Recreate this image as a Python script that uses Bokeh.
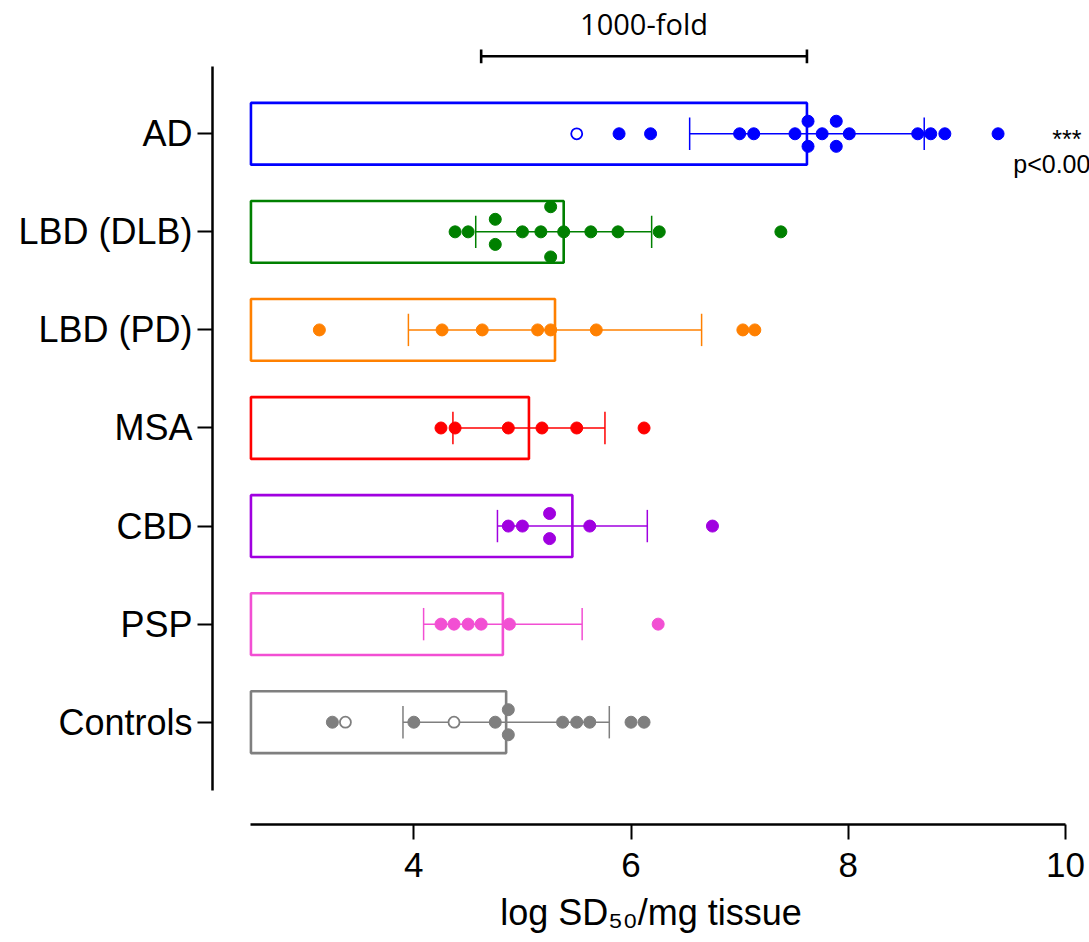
from collections import Counter

from bokeh.plotting import figure
from bokeh.models import Range1d, FixedTicker
from bokeh.embed import file_html
from bokeh.resources import INLINE
from bokeh.core.properties import value

# ---------------- data ----------------
groups = ["AD", "LBD (DLB)", "LBD (PD)", "MSA", "CBD", "PSP", "Controls"]
colors = ["#0000FF", "#008000", "#FF8000", "#FF0000", "#A000E0", "#F24FD3", "#7F7F7F"]
means = [7.62, 5.38, 5.30, 5.06, 5.46, 4.82, 4.85]
sds = [1.08, 0.81, 1.35, 0.70, 0.69, 0.73, 0.95]

ad_vals = [5.89, 6.18, 7.00, 7.13, 7.51, 7.63, 7.63, 7.76, 7.89, 7.89, 8.01, 8.64, 8.76, 8.89, 9.38]
ad_open = [5.50]
dlb_vals = [4.38, 4.50, 4.75, 4.75, 5.00, 5.17, 5.26, 5.26, 5.38, 5.63, 5.88, 6.26, 7.38]
dlb_open = []
pd_vals = [3.13, 4.26, 4.63, 5.14, 5.26, 5.68, 7.03, 7.14]
pd_open = []
msa_vals = [4.25, 4.38, 4.87, 5.18, 5.50, 6.12]
msa_open = []
cbd_vals = [4.87, 5.00, 5.25, 5.25, 5.62, 6.75]
cbd_open = []
psp_vals = [4.25, 4.37, 4.50, 4.62, 4.88, 6.25]
psp_open = []
ctrl_vals = [3.25, 4.00, 4.75, 4.87, 4.87, 5.37, 5.50, 5.62, 6.00, 6.12]
ctrl_open = [3.37, 4.37]

filled = [ad_vals, dlb_vals, pd_vals, msa_vals, cbd_vals, psp_vals, ctrl_vals]
hollow = [ad_open, dlb_open, pd_open, msa_open, cbd_open, psp_open, ctrl_open]

x_ticks = [4, 6, 8, 10]
x_title = "log SD\u2085\u2080/mg tissue"
fold_text = "1000-fold"
sig_stars = "***"
sig_text = "p<0.001"

# ---------------- layout helpers ----------------
n = len(groups)
rows = [n - 1 - i for i in range(n)]          # AD on top
BAR_H = 0.63
CAP = 0.165
LANE = 0.128
DOT_W = 0.11                                   # dot diameter in x units
X_BOUNDS = (2.5, 10)


def spread(vals):
    """Symmetric vertical stacking of identical values (dot-plot style)."""
    c = Counter(vals)
    singles = [v for v in vals if c[v] == 1]
    xs, offs = [], []
    for v in sorted(c):
        k = c[v]
        if k == 1:
            xs.append(v)
            offs.append(0.0)
            continue
        crowded = any(abs(s - v) < DOT_W for s in singles)
        step = (2 if crowded else 1) * LANE
        for j in range(k):
            xs.append(v)
            offs.append((j - (k - 1) / 2) * 2 * step / (k - 1))
    return xs, offs


FONT = "Liberation Sans"

p = figure(width=1089, height=942,
           x_range=Range1d(2.146, 10.222), y_range=Range1d(-1.043, 7.359),
           output_backend="svg", toolbar_location=None,
           min_border_left=212, min_border_right=0,
           min_border_top=0, min_border_bottom=118)
p.outline_line_color = None
p.grid.visible = False
p.background_fill_color = "white"
p.border_fill_color = "white"

# bars (mean)
p.hbar(y=rows, left=X_BOUNDS[0], right=means, height=BAR_H,
       fill_color="white", line_color=colors, line_width=2.6)

# error bars (SD)
lo = [m - s for m, s in zip(means, sds)]
hi = [m + s for m, s in zip(means, sds)]
p.segment(x0=lo, y0=rows, x1=hi, y1=rows, line_color=colors, line_width=1.5)
p.segment(x0=lo, y0=[r - CAP for r in rows], x1=lo, y1=[r + CAP for r in rows],
          line_color=colors, line_width=1.5)
p.segment(x0=hi, y0=[r - CAP for r in rows], x1=hi, y1=[r + CAP for r in rows],
          line_color=colors, line_width=1.5)

# individual points
for r, col, vals, opens in zip(rows, colors, filled, hollow):
    xs, offs = spread(vals)
    p.scatter(x=xs, y=[r + o for o in offs], size=12, marker="circle",
              fill_color=col, line_color=col, line_width=1)
    if opens:
        p.scatter(x=opens, y=[r] * len(opens), size=11, marker="circle",
                  fill_color="white", line_color=col, line_width=1.8)

# 1000-fold bracket above AD
ad_row = rows[0]
ad_mean = means[0]
by = ad_row + 0.79
p.segment(x0=[ad_mean - 3], y0=[by], x1=[ad_mean], y1=[by], line_color="black", line_width=2.6)
p.segment(x0=[ad_mean - 3, ad_mean], y0=[by - 0.07] * 2, x1=[ad_mean - 3, ad_mean],
          y1=[by + 0.07] * 2, line_color="black", line_width=2.6)
p.text(x=[ad_mean - 1.5], y=[ad_row + 1.12], text=[fold_text],
       text_font=value("Open Sans"), text_font_size="29px", text_color="black",
       text_align="center", text_baseline="alphabetic")

# significance
p.text(x=[9.88], y=[ad_row - 0.055], text=[sig_stars], text_font=value(FONT),
       text_font_size="25px", text_color="black", text_align="left",
       text_baseline="alphabetic")
p.text(x=[9.52], y=[ad_row - 0.305], text=[sig_text], text_font=value(FONT),
       text_font_size="25px", text_color="black", text_align="left",
       text_baseline="alphabetic")

# x axis
xa = p.xaxis[0]
xa.bounds = X_BOUNDS
xa.ticker = FixedTicker(ticks=x_ticks)
xa.minor_tick_line_color = None
xa.major_tick_out = 15
xa.major_tick_in = 0
xa.axis_line_width = 2.5
xa.major_tick_line_width = 2
xa.major_label_text_font = FONT
xa.major_label_text_font_size = "35px"
xa.major_label_text_color = "black"
xa.major_label_standoff = 13
xa.axis_label = x_title
xa.axis_label_text_font = FONT
xa.axis_label_text_font_size = "36px"
xa.axis_label_text_font_style = "normal"
xa.axis_label_text_color = "black"
xa.axis_label_standoff = 12

# y axis
ya = p.yaxis[0]
ya.bounds = (-0.696, 6.686)
ya.ticker = FixedTicker(ticks=rows)
ya.major_label_overrides = {r: g for r, g in zip(rows, groups)}
ya.minor_tick_line_color = None
ya.major_tick_out = 15
ya.major_tick_in = 0
ya.axis_line_width = 2.5
ya.major_tick_line_width = 2
ya.major_label_text_font = FONT
ya.major_label_text_font_size = "36px"
ya.major_label_text_color = "black"
ya.major_label_standoff = 5

open("out.html", "w").write(file_html(p, INLINE))
